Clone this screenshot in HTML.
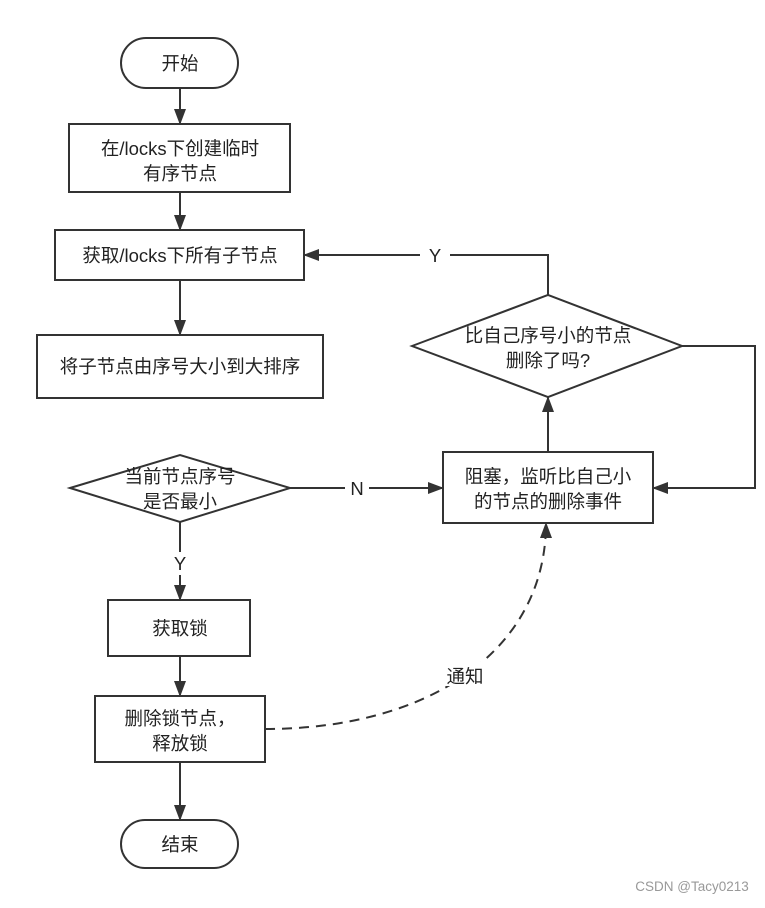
<!DOCTYPE html>
<html><head><meta charset="utf-8"><style>
body{margin:0;background:#fff}
svg text{font-family:"Liberation Sans","Noto Sans CJK SC",sans-serif;font-size:18.5px;fill:#222}
</style></head><body>
<svg width="765" height="903" viewBox="0 0 765 903" xmlns="http://www.w3.org/2000/svg">
<defs><marker id="b" markerWidth="16" markerHeight="14" refX="15" refY="7" orient="auto" markerUnits="userSpaceOnUse"><path d="M0,1 L16,7 L0,13 z" fill="#333"/></marker></defs>
<g stroke="#333" stroke-width="2" fill="#fff">
<rect x="121" y="38" width="117" height="50" rx="25"/>
<rect x="69" y="124" width="221" height="68"/>
<rect x="55" y="230" width="249" height="50"/>
<rect x="37" y="335" width="286" height="63"/>
<polygon points="70,488 180,455 290,488 180,522"/>
<rect x="108" y="600" width="142" height="56"/>
<rect x="95" y="696" width="170" height="66"/>
<rect x="121" y="820" width="117" height="48" rx="24"/>
<rect x="443" y="452" width="210" height="71"/>
<polygon points="412,346 548,295 682,346 548,397"/>
</g>
<g stroke="#333" stroke-width="2" fill="none" marker-end="url(#b)">
<line x1="180" y1="88" x2="180" y2="124"/>
<line x1="180" y1="192" x2="180" y2="230"/>
<line x1="180" y1="280" x2="180" y2="335"/>
<line x1="290" y1="488" x2="443" y2="488"/>
<line x1="180" y1="575" x2="180" y2="600"/>
<line x1="180" y1="656" x2="180" y2="696"/>
<line x1="180" y1="762" x2="180" y2="820"/>
<line x1="548" y1="452" x2="548" y2="397"/>
<polyline points="548,295 548,255 304,255"/>
<polyline points="682,346 755,346 755,488 653,488"/>
<path d="M265,729 C430,729 546,650 546,523" stroke-dasharray="10,7"/>
</g>
<line x1="180" y1="522" x2="180" y2="552" stroke="#333" stroke-width="2"/>
<g text-anchor="middle">
<text x="180" y="70">开始</text>
<text x="180" y="155">在/locks下创建临时</text>
<text x="180" y="180">有序节点</text>
<text x="180" y="262">获取/locks下所有子节点</text>
<text x="180" y="373">将子节点由序号大小到大排序</text>
<text x="180" y="483">当前节点序号</text>
<text x="180" y="508">是否最小</text>
<text x="180" y="570">Y</text>
<text x="180" y="635">获取锁</text>
<text x="180" y="725">删除锁节点，</text>
<text x="180" y="750">释放锁</text>
<text x="180" y="851">结束</text>
<text x="548" y="483">阻塞，监听比自己小</text>
<text x="548" y="508">的节点的删除事件</text>
<text x="548" y="342">比自己序号小的节点</text>
<text x="548" y="367">删除了吗?</text>
<rect x="420" y="243" width="30" height="22" fill="#fff"/>
<text x="435" y="262">Y</text>
<rect x="345" y="477" width="24" height="22" fill="#fff"/>
<text x="357" y="495">N</text>
<rect x="440" y="662" width="50" height="24" fill="#fff"/>
<text x="465" y="683">通知</text>
<text x="692" y="891" style="font-size:13.5px;fill:#999">CSDN @Tacy0213</text>
</g>
</svg>
</body></html>
